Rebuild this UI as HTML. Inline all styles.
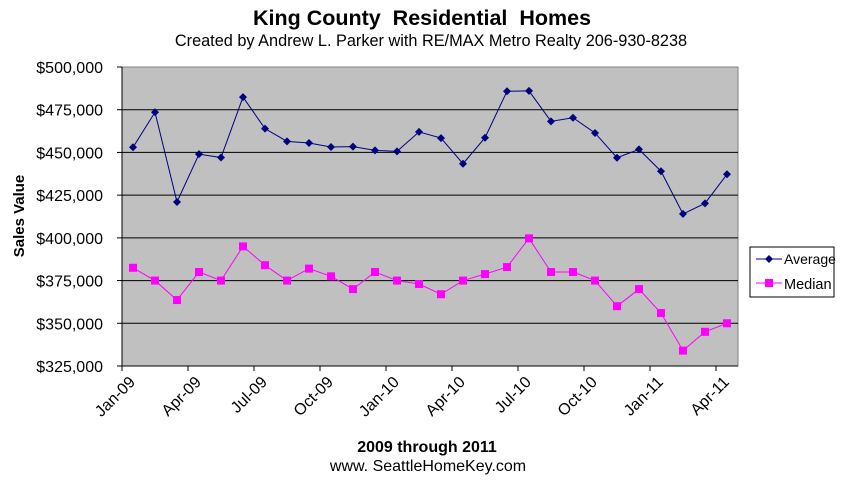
<!DOCTYPE html>
<html><head><meta charset="utf-8"><style>
body{margin:0;background:#fff;}
svg{display:block;font-family:"Liberation Sans",Arial,sans-serif;}
</style></head><body>
<svg id="chart" width="850" height="488">
<text x="422" y="25" text-anchor="middle" font-size="21.5" font-weight="bold" xml:space="preserve">King County  Residential  Homes</text>
<text x="431" y="46" text-anchor="middle" font-size="16.3">Created by Andrew L. Parker with RE/MAX Metro Realty 206-930-8238</text>
<rect x="122" y="67" width="616" height="299" fill="#c0c0c0" stroke="#808080" stroke-width="1"/>
<g id="grid"></g>
<g id="yticks"></g>
<g id="xticks"></g>
<g id="series"></g>
<text transform="translate(24,216) rotate(-90)" text-anchor="middle" font-size="15" font-weight="bold">Sales Value</text>
<text x="427" y="452" text-anchor="middle" font-size="16" font-weight="bold">2009 through 2011</text>
<text x="428" y="471" text-anchor="middle" font-size="16">www. SeattleHomeKey.com</text>
<g>
<rect x="750" y="247" width="84" height="50" fill="#fff" stroke="#000"/>
<g>
<line x1="756" y1="259" x2="782" y2="259" stroke="#000080"/>
<path d="M769 255 L773 259 L769 263 L765 259Z" fill="#000080"/>
<text x="784" y="264" font-size="14">Average</text></g>
<g>
<line x1="756" y1="283" x2="782" y2="283" stroke="#ff00ff"/>
<rect x="765" y="279" width="8" height="8" fill="#ff00ff"/>
<text x="784" y="289" font-size="14.5">Median</text></g>
</g>
</svg>
<script>
const categories=["Jan-09","Feb-09","Mar-09","Apr-09","May-09","Jun-09","Jul-09","Aug-09","Sep-09","Oct-09","Nov-09","Dec-09","Jan-10","Feb-10","Mar-10","Apr-10","May-10","Jun-10","Jul-10","Aug-10","Sep-10","Oct-10","Nov-10","Dec-10","Jan-11","Feb-11","Mar-11","Apr-11"];
const averageValues=[453000,473500,421000,449000,447000,482400,463900,456500,455500,453200,453400,451200,450600,462000,458400,443400,458600,485800,486000,468200,470300,461400,446900,451800,439000,414000,420200,437200];
const medianValues=[382500,375000,363600,380000,375000,395000,384000,375000,382000,377500,370000,380000,375000,373000,367000,375000,378800,382900,399700,380000,380000,375000,360000,370000,356000,334000,345000,350000];
const yTicks=[325000,350000,375000,400000,425000,450000,475000,500000];
const xLabelIdx=[0,3,6,9,12,15,18,21,24,27];
const X0=122,W=616,Y0=366,H=299,YMIN=325000,YMAX=500000;
const NS="http://www.w3.org/2000/svg";
const cw=W/categories.length;
function xs(i){return X0+cw*(i+0.5);}
function ys(v){return Y0-(v-YMIN)/(YMAX-YMIN)*H;}
function mk(t,a,p){const e=document.createElementNS(NS,t);for(const k in a)e.setAttribute(k,a[k]);p.appendChild(e);return e;}
const grid=document.getElementById('grid'),yt=document.getElementById('yticks'),xt=document.getElementById('xticks'),ser=document.getElementById('series');
yTicks.forEach(v=>{const y=ys(v);
 if(v>YMIN&&v<YMAX){const g=mk('line',{x1:X0,x2:X0+W,y1:y,y2:y,stroke:'#000','stroke-width':1},grid);
 
 }
 mk('line',{x1:X0-5,x2:X0,y1:y,y2:y,stroke:'#000'},yt);
 const t=mk('text',{x:X0-19,y:y+6,'text-anchor':'end','font-size':16},yt);t.textContent='$'+v.toLocaleString('en-US');
 
 
});
mk('line',{x1:X0,x2:X0,y1:67,y2:Y0,stroke:'#000'},yt);
mk('line',{x1:X0,x2:X0+W,y1:Y0,y2:Y0,stroke:'#000'},xt);
for(let i=0;i<=categories.length;i+=3){const x=X0+cw*i;mk('line',{x1:x,x2:x,y1:Y0,y2:Y0+5,stroke:'#000'},xt);}
xLabelIdx.forEach(i=>{const x=xs(i)+3,y=Y0+17;
 const t=mk('text',{x:x,y:y,'text-anchor':'end','font-size':16,transform:`rotate(-45 ${x} ${y})`},xt);t.textContent=categories[i];
 
 
});
function line(vals,col,name){
 const p=mk('polyline',{points:vals.map((v,i)=>xs(i)+','+ys(v)).join(' '),fill:'none',stroke:col,'stroke-width':1},ser);
 
 
}
line(averageValues,'#000080','average');
line(medianValues,'#ff00ff','median');
averageValues.forEach((v,i)=>{const x=xs(i),y=ys(v);
 const m=mk('path',{d:`M${x} ${y-4}L${x+4} ${y}L${x} ${y+4}L${x-4} ${y}Z`,fill:'#000080'},ser);
 
 
});
medianValues.forEach((v,i)=>{const x=xs(i),y=ys(v);
 const m=mk('rect',{x:x-4,y:y-4,width:8,height:8,fill:'#ff00ff'},ser);
 
 
});
</script>
</body></html>
